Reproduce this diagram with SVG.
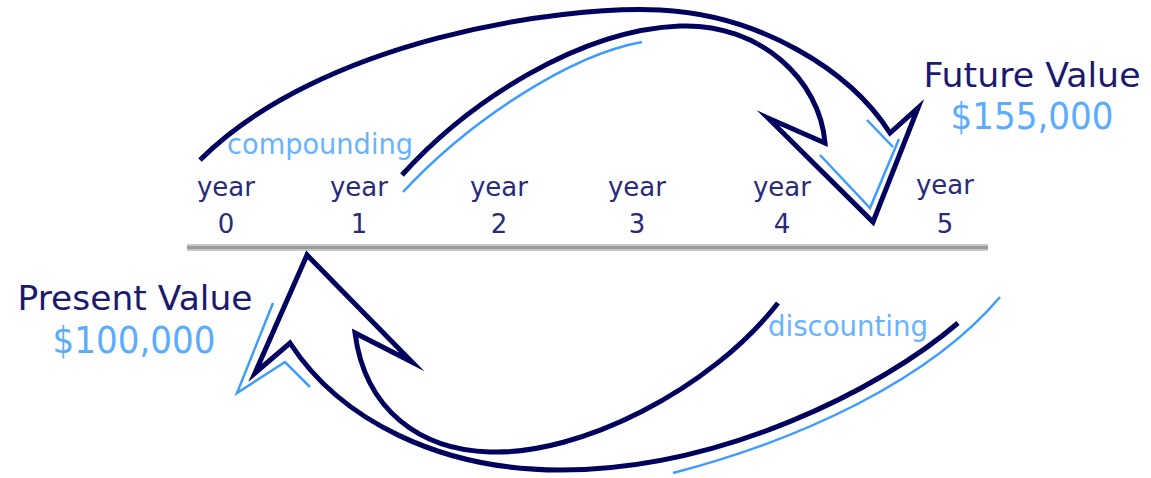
<svg xmlns="http://www.w3.org/2000/svg" width="1151" height="478" viewBox="0 0 1151 478">
<style>
.dk{fill:none;stroke:#00005e;stroke-width:5;stroke-linejoin:miter;stroke-miterlimit:10;stroke-linecap:butt}
.bl{fill:none;stroke:#3d9cff;stroke-width:2.5;stroke-linejoin:miter}
.t{font-family:"DejaVu Sans",Verdana,sans-serif;text-anchor:middle}
.yr{font-size:26px;fill:#2a2a7a}
.lbl{font-size:34px;fill:#1a1a6e}
.amt{font-size:38px;fill:#5aacff}
.act{font-size:28px;fill:#66b3ff}
</style>
<rect width="1151" height="478" fill="#ffffff"/>
<g id="timeline">
<rect x="187" y="244" width="801" height="7" fill="#c8c8c8"/>
<rect x="187" y="246" width="801" height="3" fill="#9a9a9a"/>
</g>
<g id="year0"><text class="t yr" x="226" y="196">year</text><text class="t yr" x="226" y="233">0</text></g>
<g id="year1"><text class="t yr" x="359" y="196">year</text><text class="t yr" x="359" y="233">1</text></g>
<g id="year2"><text class="t yr" x="499" y="196">year</text><text class="t yr" x="499" y="233">2</text></g>
<g id="year3"><text class="t yr" x="637" y="196">year</text><text class="t yr" x="637" y="233">3</text></g>
<g id="year4"><text class="t yr" x="782" y="196">year</text><text class="t yr" x="782" y="233">4</text></g>
<g id="year5"><text class="t yr" x="945" y="194">year</text><text class="t yr" x="945" y="233">5</text></g>
<g id="future-value">
<text class="t lbl" x="1032" y="87" textLength="217" lengthAdjust="spacingAndGlyphs">Future Value</text>
<text class="t amt" x="1032" y="129" textLength="163" lengthAdjust="spacingAndGlyphs">$155,000</text>
</g>
<g id="present-value">
<text class="t lbl" x="135" y="310" textLength="235" lengthAdjust="spacingAndGlyphs">Present Value</text>
<text class="t amt" x="134" y="353" textLength="163" lengthAdjust="spacingAndGlyphs">$100,000</text>
</g>
<g id="connectors">
<g id="compounding-arrow">
<path class="dk" d="M200,160 C320,40 560,5 660,10 C760,15 850,70 890,133 L918,108 L873,222 L768,118 L825,143 C820,80 760,23 680,26 C580,30 470,100 402,175"/>
<path class="bl" d="M403,192 C470,120 570,55 642,42"/>
<path class="bl" d="M820,155 L870,208 L899,139 M867,120 L893,147"/>
<text class="t act" x="320" y="154" textLength="186" lengthAdjust="spacingAndGlyphs">compounding</text>
</g>
<g id="discounting-arrow">
<path class="dk" d="M958,323 C880,390 720,470 560,470 C440,470 340,420 290,343 L255,373 L307,255 L412,362 L355,333 C365,410 420,450 490,452 C580,455 710,390 778,303"/>
<path class="bl" d="M1000,297 C930,380 800,440 673,473"/>
<path class="bl" d="M273,303 L237,393 L285,362 L310,387"/>
<text class="t act" x="848" y="336" textLength="160" lengthAdjust="spacingAndGlyphs">discounting</text>
</g>
</g>
</svg>
